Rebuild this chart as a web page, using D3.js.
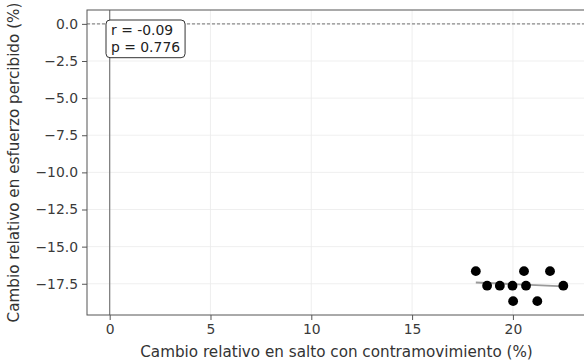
<!DOCTYPE html>
<html>
<head>
<meta charset="utf-8">
<script src="https://cdn.jsdelivr.net/npm/d3@7"></script>
<style>
  body { margin: 0; background: #fff; }
  text { font-family: "DejaVu Sans", sans-serif; }
</style>
</head>
<body>
<script>
//scatter of relative changes: jump vs perceived effort

//x values: relative change in countermovement jump (%)
var cmjChange = [18.16, 18.72, 19.35, 19.98, 20.01, 20.55, 20.65, 21.21, 21.84, 22.50];
//y values: relative change in perceived effort (%)
var rpeChange = [-16.65, -17.63, -17.63, -17.63, -18.67, -16.65, -17.63, -18.67, -16.65, -17.63];

var xTicks = [0, 5, 10, 15, 20];
var yTicks = [0, -2.5, -5, -7.5, -10, -12.5, -15, -17.5];
var statLines = ["r = -0.09", "p = 0.776"];

var xLabel = "Cambio relativo en salto con contramovimiento (%)";
var yLabel = "Cambio relativo en esfuerzo percibido (%)";

window.onload = function(){

    var w = 584, h = 360;
    //plot area (right side runs just past the picture edge)
    var left = 87, right = 586, top = 10, bottom = 315;

    var svg = d3.select("body")
        .append("svg")
        .attr("width", w)
        .attr("height", h);

    var points = cmjChange.map(function(d, i){
        return {x: d, y: rpeChange[i]};
    });

    //domains include the zero reference lines plus a 5% margin
    var xMin = Math.min(0, d3.min(cmjChange)), xMax = Math.max(0, d3.max(cmjChange));
    var yMin = Math.min(0, d3.min(rpeChange)), yMax = Math.max(0, d3.max(rpeChange));
    var xPad = (xMax - xMin) * 0.05, yPad = (yMax - yMin) * 0.05;

    var x = d3.scaleLinear()
        .domain([xMin - xPad, xMax + xPad])
        .range([left, right]);

    var y = d3.scaleLinear()
        .domain([yMin - yPad, yMax + yPad])
        .range([bottom, top]);

    //grid lines
    svg.append("g")
        .selectAll("line")
        .data(xTicks)
        .enter()
        .append("line")
        .attr("x1", function(d){ return x(d); })
        .attr("x2", function(d){ return x(d); })
        .attr("y1", top)
        .attr("y2", bottom)
        .style("stroke", "#ebebeb")
        .style("stroke-width", 0.8);

    svg.append("g")
        .selectAll("line")
        .data(yTicks)
        .enter()
        .append("line")
        .attr("x1", left)
        .attr("x2", right)
        .attr("y1", function(d){ return y(d); })
        .attr("y2", function(d){ return y(d); })
        .style("stroke", "#ebebeb")
        .style("stroke-width", 0.8);

    //zero reference lines
    svg.append("line")
        .attr("x1", left).attr("x2", right)
        .attr("y1", y(0)).attr("y2", y(0))
        .style("stroke", "#8c8c8c")
        .style("stroke-width", 1.2)
        .style("stroke-dasharray", "3,2");

    svg.append("line")
        .attr("x1", x(0)).attr("x2", x(0))
        .attr("y1", top).attr("y2", bottom)
        .style("stroke", "#7a7a7a")
        .style("stroke-width", 1.2);

    //least squares trend line across the data range
    var mx = d3.mean(cmjChange), my = d3.mean(rpeChange);
    var sxy = d3.sum(points, function(d){ return (d.x - mx) * (d.y - my); });
    var sxx = d3.sum(points, function(d){ return (d.x - mx) * (d.x - mx); });
    var slope = sxy / sxx;
    var x0 = d3.min(cmjChange), x1 = d3.max(cmjChange);

    svg.append("line")
        .attr("x1", x(x0))
        .attr("x2", x(x1))
        .attr("y1", y(my + slope * (x0 - mx)))
        .attr("y2", y(my + slope * (x1 - mx)))
        .style("stroke", "#9a9a9a")
        .style("stroke-width", 1.8);

    //points
    svg.selectAll(".dot")
        .data(points)
        .enter()
        .append("circle")
        .attr("class", "dot")
        .attr("cx", function(d){ return x(d.x); })
        .attr("cy", function(d){ return y(d.y); })
        .attr("r", 4.9)
        .style("fill", "#000");

    //axes
    var xAxis = d3.axisBottom(x)
        .tickValues(xTicks)
        .tickSize(5)
        .tickPadding(4)
        .tickFormat(d3.format("d"));

    var yAxis = d3.axisLeft(y)
        .tickValues(yTicks)
        .tickSize(5)
        .tickPadding(4)
        .tickFormat(d3.format(".1f"));

    var gx = svg.append("g")
        .attr("transform", "translate(0," + bottom + ")")
        .call(xAxis);

    var gy = svg.append("g")
        .attr("transform", "translate(" + left + ",0)")
        .call(yAxis);

    [gx, gy].forEach(function(g){
        g.select(".domain").remove();
        g.selectAll(".tick line").style("stroke", "#555");
        g.selectAll(".tick text")
            .style("font-size", "13.9px")
            .style("font-family", "DejaVu Sans")
            .style("fill", "#3a3a3a");
    });

    //frame
    svg.append("rect")
        .attr("x", left)
        .attr("y", top)
        .attr("width", right - left)
        .attr("height", bottom - top)
        .style("fill", "none")
        .style("stroke", "#555")
        .style("stroke-width", 1);

    //stats box
    var box = svg.append("g");
    var boxRect = box.append("rect");
    var boxText = box.append("text")
        .attr("x", 111)
        .attr("y", 35)
        .style("font-size", "13.9px")
        .style("fill", "#222");
    boxText.selectAll("tspan")
        .data(statLines)
        .enter()
        .append("tspan")
        .attr("x", 111)
        .attr("dy", function(d, i){ return i ? 16.7 : 0; })
        .text(function(d){ return d; });

    var bb = boxText.node().getBBox();
    boxRect
        .attr("x", bb.x - 5)
        .attr("y", bb.y - 2)
        .attr("width", bb.width + 10)
        .attr("height", bb.height + 5)
        .attr("rx", 4)
        .style("fill", "#fff")
        .style("stroke", "#333")
        .style("stroke-width", 1);

    //axis labels
    svg.append("text")
        .attr("x", (left + right) / 2)
        .attr("y", 357)
        .attr("text-anchor", "middle")
        .style("font-size", "15.2px")
        .style("fill", "#333")
        .text(xLabel);

    svg.append("text")
        .attr("transform", "translate(19," + (top + bottom) / 2 + ") rotate(-90)")
        .attr("text-anchor", "middle")
        .style("font-size", "15.2px")
        .style("fill", "#333")
        .text(yLabel);
};
</script>
</body>
</html>
